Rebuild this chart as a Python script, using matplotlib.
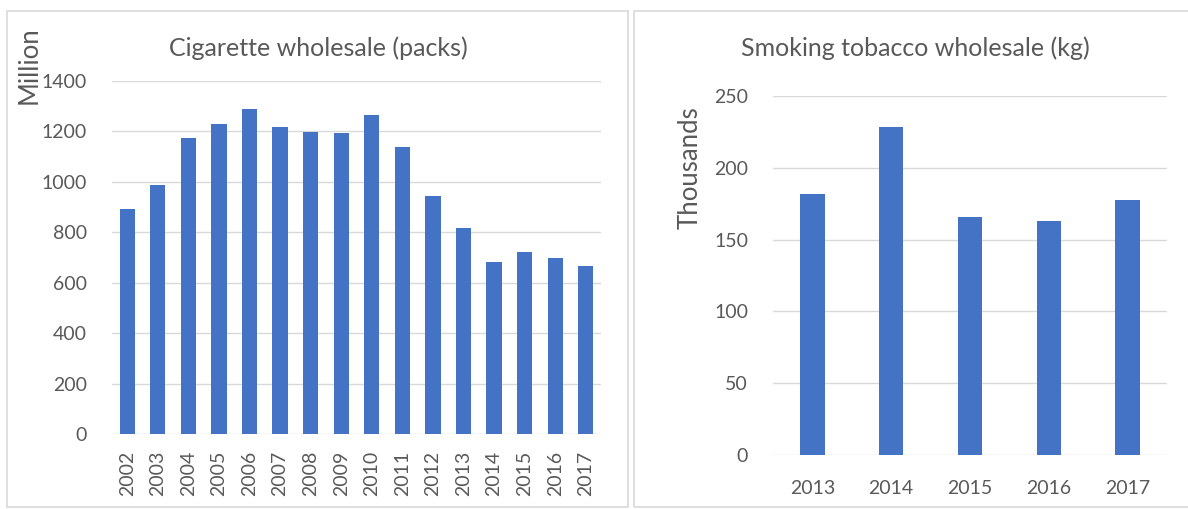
import matplotlib.pyplot as plt
from matplotlib.patches import Rectangle

# data
cig_years = ['2002', '2003', '2004', '2005', '2006', '2007', '2008', '2009',
             '2010', '2011', '2012', '2013', '2014', '2015', '2016', '2017']
cig_packs = [892, 988, 1175, 1231, 1288, 1216, 1199, 1194,
             1266, 1138, 945, 818, 682, 722, 699, 667]

tob_years = ['2013', '2014', '2015', '2016', '2017']
tob_kg = [181.5, 228.6, 166, 163, 177.4]

cig_ticks = [0, 200, 400, 600, 800, 1000, 1200, 1400]
tob_ticks = [0, 50, 100, 150, 200, 250]

blue = '#4472C4'
grid = '#d9d9d9'
txt = '#595959'

plt.rcParams['font.family'] = ['Lato', 'DejaVu Sans']

W, H = 1188, 509
fig = plt.figure(figsize=(W / 100, H / 100), dpi=100)

# panel borders (pixel coords -> figure fraction)
def px_rect(x0, y0, x1, y1):
    return Rectangle((x0 / W, 1 - y1 / H), (x1 - x0) / W, (y1 - y0) / H,
                     transform=fig.transFigure, fill=False,
                     edgecolor=grid, lw=1.2)

fig.add_artist(px_rect(7, 11, 628, 507))
fig.add_artist(px_rect(634, 11, 1200, 507))


def style(ax, ticks):
    for s in ax.spines.values():
        s.set_visible(False)
    ax.set_yticks(ticks)
    ax.yaxis.grid(True, color=grid, lw=1.0)
    ax.set_axisbelow(True)
    ax.tick_params(length=0, colors=txt, labelsize=14)
    ax.set_ylim(ticks[0], ticks[-1])


# left chart
ax1 = fig.add_axes([112 / W, 1 - 434.3 / H, 489 / W, 353.3 / H])
ax1.bar(cig_years, cig_packs, width=0.5, color=blue, zorder=3)
style(ax1, cig_ticks)
ax1.set_xlim(-0.5, len(cig_years) - 0.5)
ax1.tick_params(axis='x', rotation=90, pad=12)
ax1.tick_params(axis='y', pad=18)
fig.text(318 / W, 1 - 48 / H, 'Cigarette wholesale (packs)', ha='center',
         va='center', fontsize=18, color=txt)
fig.text(29 / W, 1 - 26 / H, 'Million', ha='center', va='top', rotation=90,
         fontsize=18.5, color=txt)

# right chart
ax2 = fig.add_axes([773 / W, 1 - 455 / H, 394 / W, 359 / H])
ax2.bar(tob_years, tob_kg, width=0.31, color=blue, zorder=3)
style(ax2, tob_ticks)
ax2.set_xlim(-0.5, len(tob_years) - 0.5)
ax2.tick_params(axis='x', pad=18)
ax2.tick_params(axis='y', pad=18)
fig.text(915 / W, 1 - 48 / H, 'Smoking tobacco wholesale (kg)', ha='center',
         va='center', fontsize=18, color=txt)
fig.text(690 / W, 1 - 168 / H, 'Thousands', ha='center', va='center',
         rotation=90, fontsize=18.5, color=txt)

fig.savefig('out.png', dpi=100)
